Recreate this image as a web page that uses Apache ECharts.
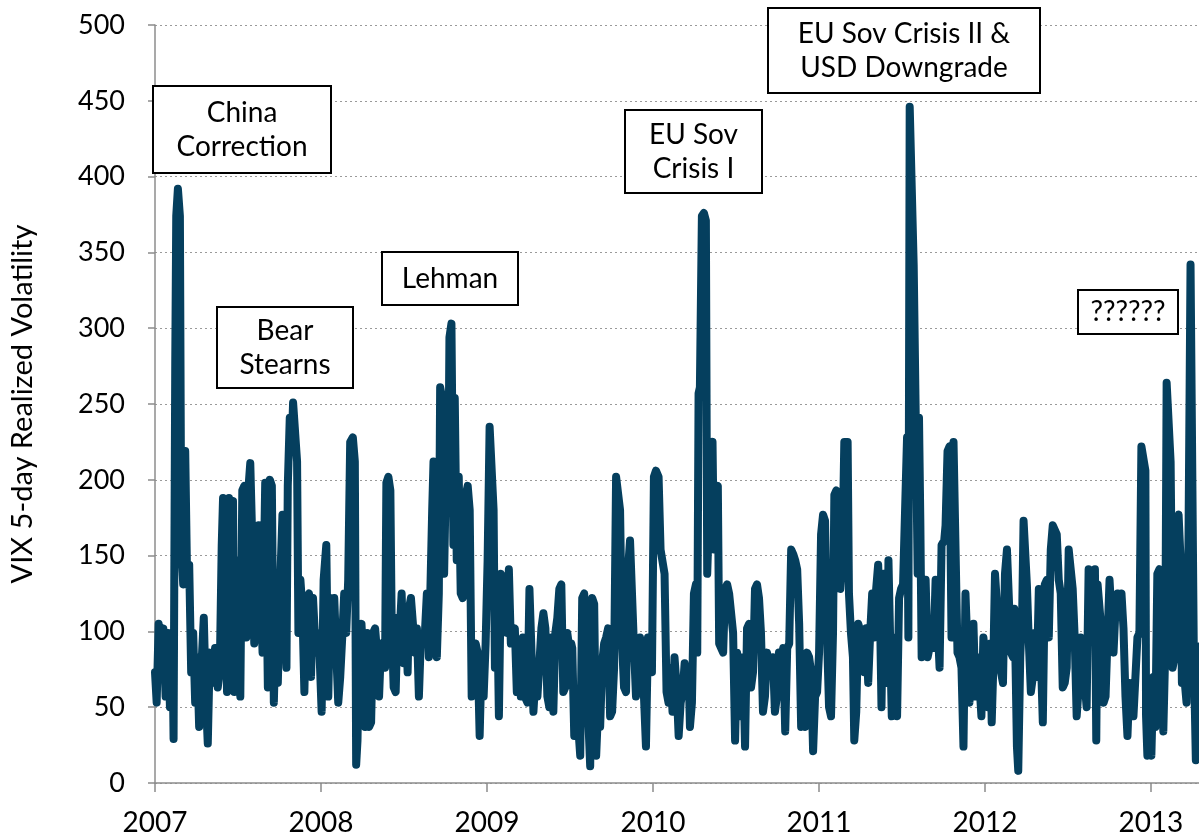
<!DOCTYPE html>
<html>
<head>
<meta charset="utf-8">
<script src="https://cdn.jsdelivr.net/npm/echarts@6/dist/echarts.min.js"></script>
<style>
html,body{margin:0;padding:0;background:#fff;}
#chart{width:1199px;height:837px;}
</style>
</head>
<body>
<div id="chart"></div>
<script>
// Tick labels / axis ranges
const yearTicks = [2007, 2008, 2009, 2010, 2011, 2012, 2013];
const yTicks = [0, 50, 100, 150, 200, 250, 300, 350, 400, 450, 500];
const yAxisTitle = 'VIX 5-day Realized Volatility';

// [fractional year, VIX 5-day realized volatility]
const vixRealizedVol = [
[2007.000,73],[2007.010,53],[2007.022,105],[2007.034,86],[2007.050,102],[2007.064,57],[2007.078,99],[2007.090,50],[2007.104,99],[2007.112,29],
[2007.122,277],[2007.128,374],[2007.138,392],[2007.150,374],[2007.158,157],[2007.170,131],[2007.182,219],[2007.194,131],[2007.206,144],[2007.218,73],
[2007.230,99],[2007.242,53],[2007.254,83],[2007.266,37],[2007.278,73],[2007.294,109],[2007.306,57],[2007.318,26],[2007.330,86],[2007.346,66],
[2007.362,89],[2007.378,63],[2007.390,73],[2007.402,157],[2007.410,188],[2007.422,164],[2007.434,60],[2007.446,188],[2007.458,173],[2007.470,186],
[2007.478,60],[2007.490,147],[2007.504,128],[2007.514,57],[2007.526,193],[2007.538,196],[2007.550,96],[2007.562,193],[2007.574,211],[2007.586,160],
[2007.598,92],[2007.610,154],
[2007.624,170],[2007.648,86],[2007.664,198],[2007.680,63],[2007.692,200],[2007.704,196],[2007.716,53],[2007.728,105],[2007.740,66],[2007.756,138],
[2007.768,177],[2007.780,122],[2007.792,76],[2007.800,196],[2007.812,241],[2007.824,225],[2007.832,251],[2007.844,251],[2007.856,212],[2007.864,99],
[2007.876,134],[2007.888,115],[2007.900,60],[2007.912,122],[2007.928,125],[2007.940,70],[2007.952,122],[2007.964,96],[2007.976,99],[2007.992,83],
[2008.004,47],[2008.016,134],[2008.032,157],[2008.044,57],[2008.056,122],[2008.068,99],[2008.080,122],[2008.092,86],[2008.104,53],[2008.116,70],
[2008.128,96],[2008.140,125],[2008.152,99],[2008.164,134],[2008.176,225],[2008.192,228],[2008.204,212],[2008.212,12],[2008.220,28],[2008.232,99],
[2008.244,105],
[2008.254,83],[2008.266,37],[2008.278,99],[2008.290,37],[2008.302,40],[2008.314,99],[2008.326,102],[2008.338,86],[2008.350,57],[2008.362,92],
[2008.374,86],[2008.386,76],[2008.394,198],[2008.406,202],[2008.418,193],[2008.426,105],[2008.438,63],[2008.450,60],[2008.462,109],[2008.474,99],
[2008.486,125],[2008.498,79],[2008.510,115],[2008.522,73],[2008.530,115],[2008.542,122],[2008.554,105],[2008.566,86],[2008.578,102],[2008.590,57],
[2008.602,96],[2008.614,92],[2008.626,99],[2008.638,125],[2008.650,83],[2008.662,83],[2008.670,180],[2008.678,212],[2008.686,147],[2008.698,83],
[2008.710,125],[2008.718,261],[2008.730,254],[2008.742,138],[2008.754,212],[2008.766,180],[2008.774,294],[2008.786,303],[2008.798,157],[2008.806,254],
[2008.818,147],[2008.830,202],[2008.842,125],[2008.854,122],[2008.866,131],[2008.878,193],
[2008.884,196],[2008.896,180],[2008.908,57],[2008.920,83],[2008.932,92],[2008.944,86],[2008.956,31],[2008.968,83],[2008.980,57],[2008.992,92],
[2009.004,147],[2009.016,235],[2009.028,235],[2009.040,180],[2009.048,76],[2009.060,131],[2009.072,44],[2009.084,138],[2009.096,134],[2009.108,131],
[2009.120,99],[2009.132,141],[2009.144,92],[2009.156,99],[2009.168,102],[2009.180,60],[2009.192,92],[2009.204,57],[2009.216,96],[2009.228,57],
[2009.244,53],[2009.256,128],[2009.268,128],[2009.280,47],[2009.292,70],[2009.304,57],[2009.316,79],[2009.328,102],[2009.340,112],[2009.352,102],
[2009.364,57],[2009.376,50],[2009.388,96],[2009.400,47],[2009.412,99],[2009.424,109],[2009.436,128],[2009.448,131],[2009.460,60],[2009.472,63],
[2009.484,99],[2009.496,89],[2009.508,92],
[2009.514,89],[2009.526,31],[2009.538,57],[2009.550,37],[2009.562,18],[2009.574,122],[2009.586,125],[2009.598,53],[2009.610,44],[2009.622,11],
[2009.634,122],[2009.646,118],[2009.658,18],[2009.670,50],[2009.682,37],[2009.694,79],[2009.706,92],[2009.718,96],[2009.730,102],[2009.742,44],
[2009.754,47],[2009.766,76],[2009.778,202],[2009.790,202],[2009.802,180],[2009.814,92],[2009.826,63],[2009.838,60],[2009.850,141],[2009.862,160],
[2009.874,160],[2009.886,89],[2009.898,57],[2009.910,76],[2009.922,96],[2009.934,83],[2009.946,57],[2009.958,24],[2009.970,96],[2009.982,92],
[2009.994,73],[2010.006,202],[2010.018,206],[2010.034,202],[2010.046,154],[2010.058,154],[2010.070,138],[2010.082,60],[2010.094,53],[2010.106,76],
[2010.118,47],[2010.130,83],
[2010.143,63],[2010.155,31],[2010.167,53],[2010.179,60],[2010.191,79],[2010.203,60],[2010.215,73],[2010.223,37],[2010.235,53],[2010.247,125],
[2010.259,131],[2010.267,86],[2010.275,257],[2010.283,261],[2010.295,374],[2010.307,376],[2010.319,371],[2010.327,138],[2010.339,180],[2010.351,222],
[2010.359,225],[2010.367,154],[2010.379,193],[2010.391,196],[2010.399,92],[2010.411,89],[2010.423,86],[2010.435,128],[2010.447,131],[2010.459,125],
[2010.471,125],[2010.483,99],[2010.495,28],[2010.507,86],[2010.519,86],[2010.531,44],[2010.543,83],[2010.555,24],[2010.567,102],[2010.579,105],
[2010.591,63],[2010.603,73],[2010.615,128],[2010.627,131],[2010.639,122],[2010.651,99],[2010.663,47],[2010.675,57],[2010.687,86],[2010.699,86],
[2010.711,73],[2010.723,83],[2010.735,47],[2010.747,57],[2010.759,86],
[2010.773,83],[2010.785,89],[2010.797,34],[2010.809,89],[2010.821,92],[2010.833,154],[2010.845,151],[2010.857,147],[2010.869,141],[2010.881,105],
[2010.893,37],[2010.905,83],[2010.917,37],[2010.929,86],[2010.941,83],[2010.953,73],[2010.965,21],[2010.977,57],[2010.989,60],[2011.001,86],
[2011.013,164],[2011.025,177],[2011.037,173],[2011.049,96],[2011.061,50],[2011.073,44],[2011.085,99],[2011.093,190],[2011.105,193],[2011.117,193],
[2011.129,128],[2011.141,147],[2011.153,225],[2011.165,225],[2011.173,225],[2011.181,125],[2011.193,99],[2011.205,83],[2011.213,28],[2011.225,47],
[2011.237,105],[2011.249,105],[2011.261,96],[2011.273,73],[2011.285,102],[2011.297,66],[2011.309,99],[2011.321,125],[2011.333,96],[2011.345,128],
[2011.357,144],[2011.369,105],[2011.377,50],[2011.389,138],
[2011.403,83],[2011.411,66],[2011.419,147],[2011.431,147],[2011.439,44],[2011.451,96],[2011.459,63],[2011.471,44],[2011.483,122],[2011.495,128],
[2011.507,131],[2011.519,131],[2011.531,228],[2011.539,96],[2011.547,446],[2011.559,446],[2011.571,342],[2011.583,245],[2011.595,138],[2011.603,241],
[2011.611,173],[2011.619,83],[2011.631,102],[2011.643,134],[2011.655,83],[2011.667,83],[2011.679,96],[2011.691,89],[2011.703,134],[2011.715,134],
[2011.727,76],[2011.739,157],[2011.755,160],[2011.763,170],[2011.775,219],[2011.787,222],[2011.799,96],[2011.811,225],[2011.823,225],[2011.835,86],
[2011.847,83],[2011.859,76],[2011.871,24],[2011.883,125],[2011.895,125],[2011.907,53],[2011.919,83],[2011.931,105],[2011.943,57],[2011.955,83],
[2011.967,66],[2011.979,44],[2011.991,96],[2012.003,83],[2012.015,50],[2012.027,50],
[2012.033,92],[2012.041,40],[2012.049,70],[2012.061,138],[2012.073,138],[2012.085,96],[2012.097,73],[2012.109,66],[2012.121,138],[2012.133,154],
[2012.145,154],[2012.157,86],[2012.169,83],[2012.177,115],[2012.185,76],[2012.193,24],[2012.201,8],[2012.213,83],[2012.225,115],[2012.233,173],
[2012.241,173],[2012.253,131],[2012.265,92],[2012.277,60],[2012.289,70],[2012.301,99],[2012.313,70],[2012.325,128],[2012.337,128],[2012.349,40],
[2012.361,131],[2012.373,134],[2012.385,96],[2012.397,154],[2012.409,170],[2012.421,170],[2012.433,164],[2012.445,134],[2012.457,125],[2012.469,63],
[2012.481,66],[2012.493,76],[2012.505,154],[2012.517,154],[2012.529,128],[2012.541,96],[2012.553,44],[2012.565,63],[2012.577,96],[2012.589,83],
[2012.601,83],[2012.613,50],[2012.625,141],[2012.637,141],[2012.649,118],
[2012.663,141],[2012.671,28],[2012.679,131],[2012.691,131],[2012.703,99],[2012.715,53],[2012.727,57],[2012.739,96],[2012.751,134],[2012.763,134],
[2012.775,86],[2012.787,115],[2012.799,125],[2012.811,115],[2012.823,125],[2012.835,102],[2012.847,57],[2012.859,31],[2012.871,66],[2012.883,66],
[2012.895,44],[2012.907,44],[2012.919,96],[2012.931,99],[2012.943,222],[2012.955,222],[2012.967,206],[2012.971,44],[2012.979,18],[2012.991,63],
[2013.003,18],[2013.015,70],[2013.027,37],[2013.039,138],[2013.051,141],[2013.063,83],[2013.075,34],[2013.087,89],[2013.095,264],[2013.107,264],
[2013.119,212],[2013.131,76],[2013.143,83],[2013.155,173],[2013.167,177],[2013.179,147],[2013.187,66],[2013.195,76],[2013.207,63],[2013.215,53],
[2013.227,164],[2013.239,342],[2013.251,342],[2013.259,83],[2013.271,15],[2013.283,83],[2013.290,90]
];

// Event annotations (text only)
const eventLabels = [
  'China\nCorrection',
  'Bear\nStearns',
  'Lehman',
  'EU Sov\nCrisis I',
  'EU Sov Crisis II &\nUSD Downgrade',
  '??????'
];

const chart = echarts.init(document.getElementById('chart'), null, {renderer: 'canvas'});
const FONT = 'Lato, "Open Sans", sans-serif';

// box layout (pixels) for each annotation, same order as eventLabels
const boxLayout = [
  {x:153, y:86,  w:178, h:87},
  {x:217, y:307, w:136, h:81},
  {x:382, y:252, w:136, h:53},
  {x:625, y:110, w:137, h:83},
  {x:768, y:8,   w:272, h:85},
  {x:1078,y:290, w:100, h:44}
];

const graphics = [];
eventLabels.forEach((t, i) => {
  const b = boxLayout[i];
  graphics.push({
    type: 'rect', z: 100,
    shape: {x: b.x, y: b.y, width: b.w, height: b.h},
    style: {fill: '#ffffff', stroke: '#000000', lineWidth: 2}
  });
  graphics.push({
    type: 'text', z: 101,
    x: b.x + b.w / 2, y: b.y + b.h / 2,
    style: {
      text: t, fill: '#000', font: '28px ' + FONT,
      textAlign: 'center', textVerticalAlign: 'middle', lineHeight: 34
    }
  });
});

chart.setOption({
  animation: false,
  backgroundColor: '#ffffff',
  grid: {left: 152, right: 0, top: 25, bottom: 54, containLabel: false},
  xAxis: {
    type: 'value',
    min: yearTicks[0],
    max: 2013.29,
    interval: 1,
    axisLine: {show: true, lineStyle: {color: '#8c8c8c', width: 1.5}},
    axisTick: {show: true, length: 9, lineStyle: {color: '#8c8c8c', width: 1.5}},
    axisLabel: {
      color: '#000', fontSize: 28, fontFamily: FONT, margin: 26,
      showMaxLabel: false,
      formatter: v => (yearTicks.indexOf(v) >= 0 ? String(v) : '')
    },
    splitLine: {show: false}
  },
  yAxis: {
    type: 'value',
    min: yTicks[0], max: yTicks[yTicks.length - 1], interval: 50,
    name: yAxisTitle,
    nameLocation: 'middle',
    nameRotate: 90,
    nameGap: 118,
    nameTextStyle: {color: '#000', fontSize: 29, fontFamily: FONT},
    axisLine: {show: true, lineStyle: {color: '#8c8c8c', width: 1.5}},
    axisTick: {show: true, length: 7, lineStyle: {color: '#8c8c8c', width: 1.5}},
    axisLabel: {color: '#000', fontSize: 27, fontFamily: FONT, margin: 30},
    splitLine: {show: true, lineStyle: {color: '#9a9a9a', type: [2, 3], width: 1}}
  },
  series: [{
    type: 'line',
    data: vixRealizedVol,
    showSymbol: false,
    symbol: 'none',
    clip: true,
    lineStyle: {color: '#053f5e', width: 8, join: 'round', cap: 'round'},
    z: 5
  }],
  graphic: graphics
});
</script>
</body>
</html>
